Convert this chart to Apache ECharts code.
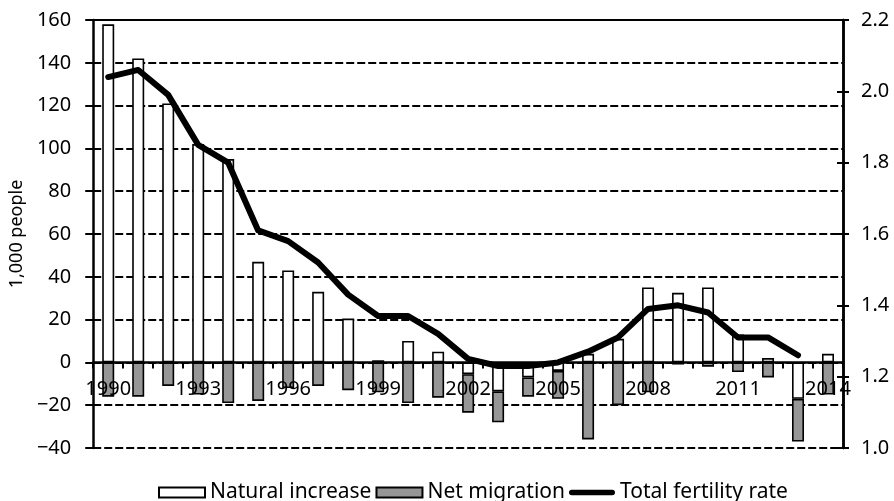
<!doctype html>
<html>
<head>
    <meta charset="utf-8">
    <title>Natural increase, net migration and fertility</title>
    <script src="https://cdn.jsdelivr.net/npm/echarts@6/dist/echarts.min.js"></script>
    <style>
        html, body { margin: 0; padding: 0; background: #fff; }
    </style>
</head>
<body>
    <div id="container" style="width:894px;height:501px;"></div>
    <script type="text/javascript">
        // years on the x axis
        var years = ['1990', '1991', '1992', '1993', '1994', '1995', '1996', '1997', '1998', '1999',
            '2000', '2001', '2002', '2003', '2004', '2005', '2006', '2007', '2008', '2009',
            '2010', '2011', '2012', '2013', '2014'];
        // 1,000 people
        var naturalIncrease = [158, 142, 121, 102, 95, 47, 43, 33, 20.5, 1,
            10, 5, -5.5, -13.5, -7, -4, 4, 11, 35, 32.5,
            35, 13, 2, -17, 4];
        var netMigration = [-16, -16, -11, -15, -19, -18, -12, -11, -13, -14,
            -19, -16.5, -18, -14.5, -9, -13, -36, -20, -14, -1,
            -2, -4.5, -7, -20, -15];
        // right axis
        var fertility = [2.04, 2.06, 1.99, 1.85, 1.80, 1.61, 1.58, 1.52, 1.43, 1.37,
            1.37, 1.32, 1.25, 1.23, 1.23, 1.24, 1.27, 1.31, 1.39, 1.40,
            1.38, 1.31, 1.31, 1.26, null];

        var font = 'Noto Sans';
        var ink = '#000';
        var leftMin = -40, leftMax = 160;
        var gridTop = 20, gridBottom = 53, chartH = 501;
        // x axis sits on the zero line of the left axis
        var plotH = chartH - gridTop - gridBottom;
        var zeroOffset = -plotH * (0 - leftMin) / (leftMax - leftMin);

        var option = {
            animation: false,
            textStyle: { fontFamily: font, color: ink },
            grid: { left: 90, right: 51, top: gridTop, bottom: gridBottom },
            legend: {
                top: 477,
                left: 153,
                itemWidth: 46,
                itemHeight: 10,
                itemGap: 4,
                textStyle: { fontFamily: font, fontSize: 21, color: ink },
                data: [
                    { name: 'Natural increase', icon: 'rect' },
                    { name: 'Net migration', icon: 'rect' },
                    { name: 'Total fertility rate', icon: 'path://M3,0 L47,0 A3,3 0 0 1 47,6 L3,6 A3,3 0 0 1 3,0 Z' }
                ]
            },
            xAxis: {
                type: 'category',
                data: years,
                position: 'bottom',
                offset: zeroOffset,
                z: 10,
                axisLine: { onZero: false, lineStyle: { color: ink, width: 2.5 } },
                axisTick: { show: true, interval: 0, length: 6, lineStyle: { color: ink, width: 2 } },
                axisLabel: { interval: 2, margin: 17, fontSize: 20, color: ink, fontFamily: font },
                splitLine: { show: false }
            },
            yAxis: [
                {
                    type: 'value',
                    min: leftMin,
                    max: leftMax,
                    interval: 20,
                    name: '1,000 people',
                    nameLocation: 'middle',
                    nameGap: 62,
                    nameTextStyle: { fontSize: 18, color: ink, fontFamily: font },
                    axisLine: { show: true, onZero: false, lineStyle: { color: ink, width: 2.5 } },
                    axisTick: { show: true, length: 8, lineStyle: { color: ink, width: 2 } },
                    axisLabel: {
                        fontSize: 20, color: ink, margin: 22, fontFamily: font,
                        formatter: function (v) { return v < 0 ? '\u2212' + Math.abs(v) : String(v); }
                    },
                    splitLine: { show: true, lineStyle: { color: ink, width: 1.8, type: [8, 3] } }
                },
                {
                    type: 'value',
                    position: 'right',
                    min: 1.0,
                    max: 2.2,
                    interval: 0.2,
                    axisLine: { show: true, onZero: false, lineStyle: { color: ink, width: 2.5 } },
                    axisTick: { show: true, length: 6, lineStyle: { color: ink, width: 2 } },
                    axisLabel: {
                        fontSize: 20, color: ink, margin: 18, fontFamily: font,
                        formatter: function (v) { return v.toFixed(1); }
                    },
                    splitLine: { show: false }
                },
                {
                    // inner half of the crossing ticks on the right
                    type: 'value',
                    position: 'right',
                    min: 1.0,
                    max: 2.2,
                    interval: 0.2,
                    axisLine: { show: true, onZero: false, lineStyle: { color: ink, width: 2.5 } },
                    axisTick: { show: true, inside: true, length: 6, lineStyle: { color: ink, width: 2 } },
                    axisLabel: { show: false },
                    splitLine: { show: false }
                }
            ],
            series: [
                {
                    name: 'Natural increase',
                    type: 'bar',
                    stack: 'pop',
                    barWidth: 12,
                    itemStyle: { color: '#fff', borderColor: ink, borderWidth: 1.6 },
                    data: naturalIncrease,
                    markLine: {
                        silent: true,
                        symbol: 'none',
                        label: { show: false },
                        lineStyle: { color: ink, type: 'solid', width: 2 },
                        data: [{ yAxis: 160 }]
                    }
                },
                {
                    name: 'Net migration',
                    type: 'bar',
                    stack: 'pop',
                    barWidth: 12,
                    itemStyle: { color: '#969696', borderColor: ink, borderWidth: 1.6 },
                    data: netMigration
                },
                {
                    name: 'Total fertility rate',
                    type: 'line',
                    yAxisIndex: 1,
                    symbol: 'none',
                    showSymbol: false,
                    connectNulls: false,
                    lineStyle: { color: ink, width: 6, cap: 'round', join: 'round' },
                    itemStyle: { color: ink },
                    data: fertility,
                    z: 5
                },
                {
                    // keeps the tick-only axis in use
                    name: 'ticks',
                    type: 'line',
                    yAxisIndex: 2,
                    data: [],
                    silent: true
                }
            ]
        };

        var myChart = echarts.init(document.getElementById('container'));
        myChart.setOption(option);
    </script>
</body>
</html>
